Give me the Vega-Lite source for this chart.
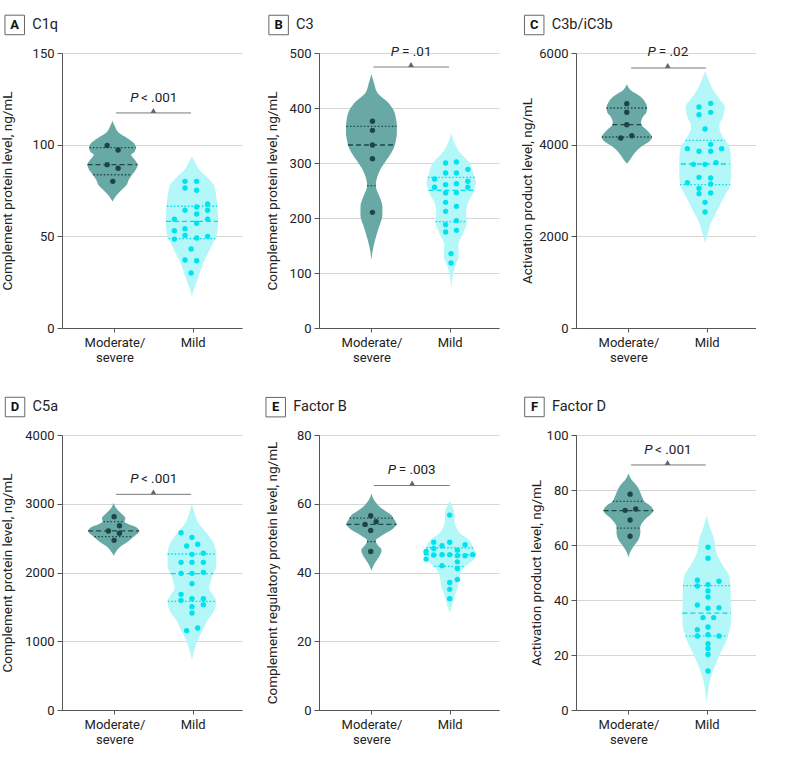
{
"$schema": "https://vega.github.io/schema/vega-lite/v6.json",
"background": "white",
"padding": {"left": 0, "top": 13, "right": 0, "bottom": 0},
"datasets": {
"vio": [
{"p":"A","g":"S","v":113,"lo":0.975,"hi":0.975},{"p":"A","g":"S","v":110,"lo":0.945,"hi":1.005},{"p":"A","g":"S","v":106.5,"lo":0.895,"hi":1.055},{"p":"A","g":"S","v":103.5,"lo":0.785,"hi":1.165},{"p":"A","g":"S","v":100.5,"lo":0.695,"hi":1.255},{"p":"A","g":"S","v":98.4,"lo":0.675,"hi":1.275},{"p":"A","g":"S","v":96,"lo":0.695,"hi":1.255},{"p":"A","g":"S","v":94.5,"lo":0.735,"hi":1.215},{"p":"A","g":"S","v":92,"lo":0.695,"hi":1.255},{"p":"A","g":"S","v":89.1,"lo":0.655,"hi":1.295},{"p":"A","g":"S","v":86.5,"lo":0.675,"hi":1.275},{"p":"A","g":"S","v":83.6,"lo":0.725,"hi":1.225},{"p":"A","g":"S","v":81,"lo":0.765,"hi":1.185},{"p":"A","g":"S","v":78,"lo":0.795,"hi":1.155},{"p":"A","g":"S","v":75,"lo":0.865,"hi":1.085},{"p":"A","g":"S","v":72,"lo":0.93,"hi":1.02},{"p":"A","g":"S","v":69,"lo":0.975,"hi":0.975},
{"p":"A","g":"M","v":93.6,"lo":1.99,"hi":1.99},{"p":"A","g":"M","v":90,"lo":1.947,"hi":2.033},{"p":"A","g":"M","v":86,"lo":1.89,"hi":2.09},{"p":"A","g":"M","v":82,"lo":1.79,"hi":2.19},{"p":"A","g":"M","v":78,"lo":1.71,"hi":2.27},{"p":"A","g":"M","v":72,"lo":1.68,"hi":2.3},{"p":"A","g":"M","v":66.4,"lo":1.665,"hi":2.315},{"p":"A","g":"M","v":59,"lo":1.655,"hi":2.325},{"p":"A","g":"M","v":52,"lo":1.665,"hi":2.315},{"p":"A","g":"M","v":48.7,"lo":1.69,"hi":2.29},{"p":"A","g":"M","v":46.4,"lo":1.72,"hi":2.26},{"p":"A","g":"M","v":41,"lo":1.78,"hi":2.2},{"p":"A","g":"M","v":34,"lo":1.86,"hi":2.12},{"p":"A","g":"M","v":28,"lo":1.905,"hi":2.075},{"p":"A","g":"M","v":23,"lo":1.95,"hi":2.03},{"p":"A","g":"M","v":17.3,"lo":1.99,"hi":1.99},
{"p":"B","g":"S","v":462,"lo":1,"hi":1},{"p":"B","g":"S","v":445,"lo":0.966,"hi":1.034},{"p":"B","g":"S","v":427,"lo":0.92,"hi":1.08},{"p":"B","g":"S","v":412,"lo":0.8,"hi":1.2},{"p":"B","g":"S","v":397,"lo":0.72,"hi":1.28},{"p":"B","g":"S","v":380,"lo":0.685,"hi":1.315},{"p":"B","g":"S","v":366.7,"lo":0.675,"hi":1.325},{"p":"B","g":"S","v":354,"lo":0.675,"hi":1.325},{"p":"B","g":"S","v":340,"lo":0.69,"hi":1.31},{"p":"B","g":"S","v":332.7,"lo":0.7,"hi":1.3},{"p":"B","g":"S","v":320,"lo":0.74,"hi":1.26},{"p":"B","g":"S","v":305,"lo":0.81,"hi":1.19},{"p":"B","g":"S","v":290,"lo":0.88,"hi":1.12},{"p":"B","g":"S","v":275,"lo":0.925,"hi":1.075},{"p":"B","g":"S","v":258.8,"lo":0.945,"hi":1.055},{"p":"B","g":"S","v":240,"lo":0.9,"hi":1.1},{"p":"B","g":"S","v":221,"lo":0.86,"hi":1.14},{"p":"B","g":"S","v":205,"lo":0.86,"hi":1.14},{"p":"B","g":"S","v":185,"lo":0.9,"hi":1.1},{"p":"B","g":"S","v":160,"lo":0.953,"hi":1.047},{"p":"B","g":"S","v":140,"lo":0.985,"hi":1.015},{"p":"B","g":"S","v":124,"lo":1,"hi":1},
{"p":"B","g":"M","v":354.5,"lo":2.02,"hi":2.02},{"p":"B","g":"M","v":336,"lo":1.977,"hi":2.063},{"p":"B","g":"M","v":318,"lo":1.904,"hi":2.136},{"p":"B","g":"M","v":300,"lo":1.784,"hi":2.256},{"p":"B","g":"M","v":282,"lo":1.737,"hi":2.303},{"p":"B","g":"M","v":273.9,"lo":1.72,"hi":2.32},{"p":"B","g":"M","v":263.6,"lo":1.704,"hi":2.336},{"p":"B","g":"M","v":250.3,"lo":1.73,"hi":2.31},{"p":"B","g":"M","v":245.5,"lo":1.74,"hi":2.3},{"p":"B","g":"M","v":227,"lo":1.81,"hi":2.23},{"p":"B","g":"M","v":209,"lo":1.83,"hi":2.21},{"p":"B","g":"M","v":193.3,"lo":1.82,"hi":2.22},{"p":"B","g":"M","v":175,"lo":1.86,"hi":2.18},{"p":"B","g":"M","v":150,"lo":1.93,"hi":2.11},{"p":"B","g":"M","v":130,"lo":1.925,"hi":2.115},{"p":"B","g":"M","v":112,"lo":1.973,"hi":2.067},{"p":"B","g":"M","v":90,"lo":2.008,"hi":2.032},{"p":"B","g":"M","v":70,"lo":2.02,"hi":2.02},
{"p":"C","g":"S","v":5324,"lo":0.98,"hi":0.98},{"p":"C","g":"S","v":5200,"lo":0.937,"hi":1.023},{"p":"C","g":"S","v":5055,"lo":0.81,"hi":1.15},{"p":"C","g":"S","v":4909,"lo":0.74,"hi":1.22},{"p":"C","g":"S","v":4800,"lo":0.72,"hi":1.24},{"p":"C","g":"S","v":4700,"lo":0.73,"hi":1.23},{"p":"C","g":"S","v":4618,"lo":0.77,"hi":1.19},{"p":"C","g":"S","v":4473,"lo":0.8,"hi":1.16},{"p":"C","g":"S","v":4436,"lo":0.795,"hi":1.165},{"p":"C","g":"S","v":4327,"lo":0.73,"hi":1.23},{"p":"C","g":"S","v":4167,"lo":0.66,"hi":1.3},{"p":"C","g":"S","v":4073,"lo":0.69,"hi":1.27},{"p":"C","g":"S","v":3964,"lo":0.79,"hi":1.17},{"p":"C","g":"S","v":3818,"lo":0.88,"hi":1.08},{"p":"C","g":"S","v":3673,"lo":0.94,"hi":1.02},{"p":"C","g":"S","v":3585,"lo":0.98,"hi":0.98},
{"p":"C","g":"M","v":5600,"lo":1.98,"hi":1.98},{"p":"C","g":"M","v":5418,"lo":1.937,"hi":2.023},{"p":"C","g":"M","v":5200,"lo":1.88,"hi":2.08},{"p":"C","g":"M","v":4982,"lo":1.79,"hi":2.17},{"p":"C","g":"M","v":4836,"lo":1.73,"hi":2.23},{"p":"C","g":"M","v":4618,"lo":1.75,"hi":2.21},{"p":"C","g":"M","v":4400,"lo":1.8,"hi":2.16},{"p":"C","g":"M","v":4182,"lo":1.76,"hi":2.2},{"p":"C","g":"M","v":4095,"lo":1.73,"hi":2.23},{"p":"C","g":"M","v":3964,"lo":1.67,"hi":2.29},{"p":"C","g":"M","v":3673,"lo":1.65,"hi":2.31},{"p":"C","g":"M","v":3578,"lo":1.65,"hi":2.31},{"p":"C","g":"M","v":3382,"lo":1.65,"hi":2.31},{"p":"C","g":"M","v":3127,"lo":1.66,"hi":2.3},{"p":"C","g":"M","v":2873,"lo":1.735,"hi":2.225},{"p":"C","g":"M","v":2582,"lo":1.82,"hi":2.14},{"p":"C","g":"M","v":2291,"lo":1.906,"hi":2.054},{"p":"C","g":"M","v":2073,"lo":1.944,"hi":2.016},{"p":"C","g":"M","v":1855,"lo":1.98,"hi":1.98},
{"p":"D","g":"S","v":3016,"lo":0.99,"hi":0.99},{"p":"D","g":"S","v":2933,"lo":0.956,"hi":1.024},{"p":"D","g":"S","v":2861,"lo":0.896,"hi":1.084},{"p":"D","g":"S","v":2788,"lo":0.84,"hi":1.14},{"p":"D","g":"S","v":2739,"lo":0.85,"hi":1.13},{"p":"D","g":"S","v":2700,"lo":0.79,"hi":1.19},{"p":"D","g":"S","v":2660,"lo":0.7,"hi":1.28},{"p":"D","g":"S","v":2604,"lo":0.664,"hi":1.316},{"p":"D","g":"S","v":2560,"lo":0.69,"hi":1.29},{"p":"D","g":"S","v":2521,"lo":0.735,"hi":1.245},{"p":"D","g":"S","v":2448,"lo":0.81,"hi":1.17},{"p":"D","g":"S","v":2376,"lo":0.905,"hi":1.075},{"p":"D","g":"S","v":2303,"lo":0.96,"hi":1.02},{"p":"D","g":"S","v":2245,"lo":0.99,"hi":0.99},
{"p":"D","g":"M","v":3006,"lo":1.99,"hi":1.99},{"p":"D","g":"M","v":2861,"lo":1.956,"hi":2.024},{"p":"D","g":"M","v":2715,"lo":1.905,"hi":2.075},{"p":"D","g":"M","v":2570,"lo":1.8,"hi":2.18},{"p":"D","g":"M","v":2424,"lo":1.713,"hi":2.267},{"p":"D","g":"M","v":2269,"lo":1.68,"hi":2.3},{"p":"D","g":"M","v":2085,"lo":1.68,"hi":2.3},{"p":"D","g":"M","v":1983,"lo":1.72,"hi":2.26},{"p":"D","g":"M","v":1891,"lo":1.745,"hi":2.235},{"p":"D","g":"M","v":1770,"lo":1.77,"hi":2.21},{"p":"D","g":"M","v":1660,"lo":1.71,"hi":2.27},{"p":"D","g":"M","v":1581,"lo":1.68,"hi":2.3},{"p":"D","g":"M","v":1455,"lo":1.7,"hi":2.28},{"p":"D","g":"M","v":1309,"lo":1.79,"hi":2.19},{"p":"D","g":"M","v":1164,"lo":1.85,"hi":2.13},{"p":"D","g":"M","v":1018,"lo":1.915,"hi":2.065},{"p":"D","g":"M","v":873,"lo":1.958,"hi":2.022},{"p":"D","g":"M","v":727,"lo":1.99,"hi":1.99},
{"p":"E","g":"S","v":63,"lo":1,"hi":1},{"p":"E","g":"S","v":61.1,"lo":0.966,"hi":1.034},{"p":"E","g":"S","v":59.6,"lo":0.915,"hi":1.085},{"p":"E","g":"S","v":58.2,"lo":0.84,"hi":1.16},{"p":"E","g":"S","v":56.8,"lo":0.75,"hi":1.25},{"p":"E","g":"S","v":55.8,"lo":0.72,"hi":1.28},{"p":"E","g":"S","v":54.8,"lo":0.69,"hi":1.31},{"p":"E","g":"S","v":54,"lo":0.68,"hi":1.32},{"p":"E","g":"S","v":53.3,"lo":0.7,"hi":1.3},{"p":"E","g":"S","v":52.3,"lo":0.75,"hi":1.25},{"p":"E","g":"S","v":51.4,"lo":0.82,"hi":1.18},{"p":"E","g":"S","v":50.4,"lo":0.89,"hi":1.11},{"p":"E","g":"S","v":49.5,"lo":0.94,"hi":1.06},{"p":"E","g":"S","v":49,"lo":0.943,"hi":1.057},{"p":"E","g":"S","v":48,"lo":0.92,"hi":1.08},{"p":"E","g":"S","v":46.5,"lo":0.87,"hi":1.13},{"p":"E","g":"S","v":45.1,"lo":0.89,"hi":1.11},{"p":"E","g":"S","v":43.2,"lo":0.943,"hi":1.057},{"p":"E","g":"S","v":41.7,"lo":0.98,"hi":1.02},{"p":"E","g":"S","v":40.5,"lo":1,"hi":1},
{"p":"E","g":"M","v":60.8,"lo":2,"hi":2},{"p":"E","g":"M","v":59.2,"lo":1.966,"hi":2.034},{"p":"E","g":"M","v":57.2,"lo":1.94,"hi":2.06},{"p":"E","g":"M","v":55.5,"lo":1.94,"hi":2.06},{"p":"E","g":"M","v":54.3,"lo":1.936,"hi":2.064},{"p":"E","g":"M","v":52.8,"lo":1.91,"hi":2.09},{"p":"E","g":"M","v":51.4,"lo":1.866,"hi":2.134},{"p":"E","g":"M","v":49.5,"lo":1.755,"hi":2.245},{"p":"E","g":"M","v":47.5,"lo":1.706,"hi":2.294},{"p":"E","g":"M","v":47.2,"lo":1.7,"hi":2.3},{"p":"E","g":"M","v":45.6,"lo":1.66,"hi":2.34},{"p":"E","g":"M","v":45.2,"lo":1.665,"hi":2.335},{"p":"E","g":"M","v":43.6,"lo":1.702,"hi":2.298},{"p":"E","g":"M","v":41.8,"lo":1.8,"hi":2.2},{"p":"E","g":"M","v":40.3,"lo":1.85,"hi":2.15},{"p":"E","g":"M","v":38.8,"lo":1.872,"hi":2.128},{"p":"E","g":"M","v":35.9,"lo":1.894,"hi":2.106},{"p":"E","g":"M","v":33,"lo":1.94,"hi":2.06},{"p":"E","g":"M","v":30.1,"lo":1.972,"hi":2.028},{"p":"E","g":"M","v":28.3,"lo":2,"hi":2},
{"p":"F","g":"S","v":86.1,"lo":1,"hi":1},{"p":"F","g":"S","v":84,"lo":0.966,"hi":1.034},{"p":"F","g":"S","v":81.6,"lo":0.894,"hi":1.106},{"p":"F","g":"S","v":79.2,"lo":0.85,"hi":1.15},{"p":"F","g":"S","v":76.7,"lo":0.814,"hi":1.186},{"p":"F","g":"S","v":75.9,"lo":0.8,"hi":1.2},{"p":"F","g":"S","v":74.3,"lo":0.72,"hi":1.28},{"p":"F","g":"S","v":72.5,"lo":0.682,"hi":1.318},{"p":"F","g":"S","v":71,"lo":0.72,"hi":1.28},{"p":"F","g":"S","v":69.5,"lo":0.782,"hi":1.218},{"p":"F","g":"S","v":67,"lo":0.845,"hi":1.155},{"p":"F","g":"S","v":66.1,"lo":0.85,"hi":1.15},{"p":"F","g":"S","v":64.6,"lo":0.847,"hi":1.153},{"p":"F","g":"S","v":62.2,"lo":0.867,"hi":1.133},{"p":"F","g":"S","v":59.8,"lo":0.926,"hi":1.074},{"p":"F","g":"S","v":57.3,"lo":0.98,"hi":1.02},{"p":"F","g":"S","v":55.5,"lo":1,"hi":1},
{"p":"F","g":"M","v":70.7,"lo":2,"hi":2},{"p":"F","g":"M","v":67,"lo":1.966,"hi":2.034},{"p":"F","g":"M","v":62.2,"lo":1.905,"hi":2.095},{"p":"F","g":"M","v":57.3,"lo":1.877,"hi":2.123},{"p":"F","g":"M","v":52.5,"lo":1.792,"hi":2.208},{"p":"F","g":"M","v":48.8,"lo":1.714,"hi":2.286},{"p":"F","g":"M","v":45.2,"lo":1.697,"hi":2.303},{"p":"F","g":"M","v":40.4,"lo":1.693,"hi":2.307},{"p":"F","g":"M","v":35.2,"lo":1.689,"hi":2.311},{"p":"F","g":"M","v":30.7,"lo":1.693,"hi":2.307},{"p":"F","g":"M","v":26.9,"lo":1.73,"hi":2.27},{"p":"F","g":"M","v":25.8,"lo":1.74,"hi":2.26},{"p":"F","g":"M","v":21,"lo":1.82,"hi":2.18},{"p":"F","g":"M","v":16.1,"lo":1.894,"hi":2.106},{"p":"F","g":"M","v":11.3,"lo":1.953,"hi":2.047},{"p":"F","g":"M","v":6.4,"lo":1.983,"hi":2.017},{"p":"F","g":"M","v":2.8,"lo":2,"hi":2}
],
"qt": [
{"p":"A","g":"S","k":"q","v":98.4,"lo":0.68,"hi":1.27},{"p":"A","g":"S","k":"med","v":89.1,"lo":0.655,"hi":1.295},{"p":"A","g":"S","k":"q","v":83.6,"lo":0.73,"hi":1.22},
{"p":"A","g":"M","k":"q","v":66.4,"lo":1.67,"hi":2.31},{"p":"A","g":"M","k":"med","v":58.2,"lo":1.66,"hi":2.32},{"p":"A","g":"M","k":"q","v":48.7,"lo":1.69,"hi":2.29},
{"p":"B","g":"S","k":"q","v":366.7,"lo":0.68,"hi":1.32},{"p":"B","g":"S","k":"med","v":332.7,"lo":0.7,"hi":1.3},{"p":"B","g":"S","k":"q","v":258.8,"lo":0.945,"hi":1.055},
{"p":"B","g":"M","k":"q","v":273.9,"lo":1.72,"hi":2.32},{"p":"B","g":"M","k":"med","v":250.3,"lo":1.73,"hi":2.31},{"p":"B","g":"M","k":"q","v":193.3,"lo":1.82,"hi":2.22},
{"p":"C","g":"S","k":"q","v":4800,"lo":0.72,"hi":1.24},{"p":"C","g":"S","k":"med","v":4436,"lo":0.795,"hi":1.165},{"p":"C","g":"S","k":"q","v":4167,"lo":0.66,"hi":1.3},
{"p":"C","g":"M","k":"q","v":4095,"lo":1.73,"hi":2.23},{"p":"C","g":"M","k":"med","v":3578,"lo":1.67,"hi":2.29},{"p":"C","g":"M","k":"q","v":3127,"lo":1.66,"hi":2.3},
{"p":"D","g":"S","k":"q","v":2739,"lo":0.86,"hi":1.12},{"p":"D","g":"S","k":"med","v":2604,"lo":0.664,"hi":1.316},{"p":"D","g":"S","k":"q","v":2521,"lo":0.745,"hi":1.235},
{"p":"D","g":"M","k":"q","v":2269,"lo":1.68,"hi":2.3},{"p":"D","g":"M","k":"med","v":1983,"lo":1.72,"hi":2.26},{"p":"D","g":"M","k":"q","v":1581,"lo":1.68,"hi":2.3},
{"p":"E","g":"S","k":"q","v":55.8,"lo":0.72,"hi":1.28},{"p":"E","g":"S","k":"med","v":54,"lo":0.68,"hi":1.32},{"p":"E","g":"S","k":"q","v":49,"lo":0.943,"hi":1.057},
{"p":"E","g":"M","k":"q","v":47.2,"lo":1.7,"hi":2.3},{"p":"E","g":"M","k":"med","v":45.2,"lo":1.67,"hi":2.33},{"p":"E","g":"M","k":"q","v":41.8,"lo":1.8,"hi":2.2},
{"p":"F","g":"S","k":"q","v":75.9,"lo":0.8,"hi":1.2},{"p":"F","g":"S","k":"med","v":72.5,"lo":0.682,"hi":1.318},{"p":"F","g":"S","k":"q","v":66.1,"lo":0.85,"hi":1.15},
{"p":"F","g":"M","k":"q","v":45.2,"lo":1.697,"hi":2.303},{"p":"F","g":"M","k":"med","v":35.2,"lo":1.689,"hi":2.311},{"p":"F","g":"M","k":"q","v":26.9,"lo":1.73,"hi":2.27}
],
"pts": [
{"p":"A","g":"S","x":0.907,"v":99.6},{"p":"A","g":"S","x":1.047,"v":97.1},{"p":"A","g":"S","x":0.907,"v":89.1},{"p":"A","g":"S","x":1.047,"v":87.1},{"p":"A","g":"S","x":0.979,"v":80},
{"p":"A","g":"M","x":1.902,"v":80},{"p":"A","g":"M","x":2.051,"v":80},{"p":"A","g":"M","x":1.902,"v":76.4},{"p":"A","g":"M","x":2.051,"v":75.1},{"p":"A","g":"M","x":2.191,"v":67.6},{"p":"A","g":"M","x":2.051,"v":66},{"p":"A","g":"M","x":1.902,"v":64.2},{"p":"A","g":"M","x":2.191,"v":64.2},{"p":"A","g":"M","x":2.051,"v":62.2},{"p":"A","g":"M","x":1.766,"v":59.3},{"p":"A","g":"M","x":2.191,"v":59.3},{"p":"A","g":"M","x":2.051,"v":57.1},{"p":"A","g":"M","x":1.766,"v":53.1},{"p":"A","g":"M","x":1.902,"v":54.2},{"p":"A","g":"M","x":1.902,"v":50.5},{"p":"A","g":"M","x":2.191,"v":50},{"p":"A","g":"M","x":1.766,"v":48.5},{"p":"A","g":"M","x":2.051,"v":49.1},{"p":"A","g":"M","x":1.979,"v":43.1},{"p":"A","g":"M","x":1.902,"v":37.1},{"p":"A","g":"M","x":2.051,"v":36.7},{"p":"A","g":"M","x":1.979,"v":30},
{"p":"B","g":"S","x":1.013,"v":375.8},{"p":"B","g":"S","x":1.013,"v":359.4},{"p":"B","g":"S","x":1.013,"v":332.7},{"p":"B","g":"S","x":1.013,"v":307.9},{"p":"B","g":"S","x":1.013,"v":210.3},
{"p":"B","g":"M","x":1.948,"v":300},{"p":"B","g":"M","x":2.086,"v":301.8},{"p":"B","g":"M","x":2.232,"v":288.5},{"p":"B","g":"M","x":1.948,"v":281.8},{"p":"B","g":"M","x":2.086,"v":281.8},{"p":"B","g":"M","x":1.807,"v":270.9},{"p":"B","g":"M","x":2.086,"v":262.4},{"p":"B","g":"M","x":1.948,"v":260.6},{"p":"B","g":"M","x":2.232,"v":266.7},{"p":"B","g":"M","x":1.807,"v":255.8},{"p":"B","g":"M","x":2.232,"v":255.8},{"p":"B","g":"M","x":1.948,"v":245.5},{"p":"B","g":"M","x":2.086,"v":246.1},{"p":"B","g":"M","x":1.948,"v":228.5},{"p":"B","g":"M","x":2.086,"v":221.2},{"p":"B","g":"M","x":1.948,"v":212.1},{"p":"B","g":"M","x":2.086,"v":195.2},{"p":"B","g":"M","x":1.948,"v":187.9},{"p":"B","g":"M","x":1.948,"v":174.5},{"p":"B","g":"M","x":2.086,"v":177.6},{"p":"B","g":"M","x":2.017,"v":135.2},{"p":"B","g":"M","x":2.017,"v":118.2},
{"p":"C","g":"S","x":0.979,"v":4894},{"p":"C","g":"S","x":0.979,"v":4706},{"p":"C","g":"S","x":0.979,"v":4436},{"p":"C","g":"S","x":0.902,"v":4145},{"p":"C","g":"S","x":1.043,"v":4196},
{"p":"C","g":"M","x":1.902,"v":4822},{"p":"C","g":"M","x":2.051,"v":4902},{"p":"C","g":"M","x":1.902,"v":4655},{"p":"C","g":"M","x":2.051,"v":4705},{"p":"C","g":"M","x":1.979,"v":4342},{"p":"C","g":"M","x":2.051,"v":4007},{"p":"C","g":"M","x":1.902,"v":3855},{"p":"C","g":"M","x":2.051,"v":3855},{"p":"C","g":"M","x":1.753,"v":3913},{"p":"C","g":"M","x":2.191,"v":3913},{"p":"C","g":"M","x":1.83,"v":3571},{"p":"C","g":"M","x":1.979,"v":3571},{"p":"C","g":"M","x":2.119,"v":3607},{"p":"C","g":"M","x":1.902,"v":3287},{"p":"C","g":"M","x":2.051,"v":3273},{"p":"C","g":"M","x":1.753,"v":3171},{"p":"C","g":"M","x":2.051,"v":3142},{"p":"C","g":"M","x":1.902,"v":3047},{"p":"C","g":"M","x":1.902,"v":2931},{"p":"C","g":"M","x":2.051,"v":2945},{"p":"C","g":"M","x":1.979,"v":2742},{"p":"C","g":"M","x":1.979,"v":2531},
{"p":"D","g":"S","x":0.996,"v":2812},{"p":"D","g":"S","x":0.923,"v":2604},{"p":"D","g":"S","x":1.064,"v":2681},{"p":"D","g":"S","x":1.064,"v":2570},{"p":"D","g":"S","x":0.996,"v":2468},
{"p":"D","g":"M","x":1.851,"v":2579},{"p":"D","g":"M","x":1.991,"v":2511},{"p":"D","g":"M","x":1.923,"v":2385},{"p":"D","g":"M","x":2.064,"v":2410},{"p":"D","g":"M","x":1.991,"v":2264},{"p":"D","g":"M","x":2.136,"v":2279},{"p":"D","g":"M","x":1.851,"v":2148},{"p":"D","g":"M","x":1.991,"v":2148},{"p":"D","g":"M","x":2.136,"v":2148},{"p":"D","g":"M","x":1.851,"v":1988},{"p":"D","g":"M","x":1.991,"v":1988},{"p":"D","g":"M","x":2.136,"v":2002},{"p":"D","g":"M","x":1.991,"v":1838},{"p":"D","g":"M","x":1.851,"v":1682},{"p":"D","g":"M","x":1.851,"v":1595},{"p":"D","g":"M","x":1.991,"v":1619},{"p":"D","g":"M","x":2.136,"v":1619},{"p":"D","g":"M","x":2.136,"v":1532},{"p":"D","g":"M","x":1.991,"v":1503},{"p":"D","g":"M","x":1.991,"v":1411},{"p":"D","g":"M","x":1.923,"v":1154},{"p":"D","g":"M","x":2.064,"v":1193},
{"p":"E","g":"S","x":0.991,"v":56.5},{"p":"E","g":"S","x":1.06,"v":54.8},{"p":"E","g":"S","x":0.919,"v":54},{"p":"E","g":"S","x":0.991,"v":52.2},{"p":"E","g":"S","x":0.991,"v":46.1},
{"p":"E","g":"M","x":2,"v":56.7},{"p":"E","g":"M","x":1.796,"v":48.8},{"p":"E","g":"M","x":2,"v":48.8},{"p":"E","g":"M","x":2.196,"v":48.1},{"p":"E","g":"M","x":1.902,"v":47.8},{"p":"E","g":"M","x":1.796,"v":47},{"p":"E","g":"M","x":2.098,"v":46.5},{"p":"E","g":"M","x":1.698,"v":46.1},{"p":"E","g":"M","x":1.902,"v":45.2},{"p":"E","g":"M","x":1.796,"v":45.1},{"p":"E","g":"M","x":2,"v":45.2},{"p":"E","g":"M","x":2.098,"v":44.9},{"p":"E","g":"M","x":2.196,"v":44.9},{"p":"E","g":"M","x":2.294,"v":45.2},{"p":"E","g":"M","x":1.698,"v":43.9},{"p":"E","g":"M","x":2.098,"v":43.1},{"p":"E","g":"M","x":1.902,"v":42},{"p":"E","g":"M","x":2.098,"v":41.2},{"p":"E","g":"M","x":2,"v":37.1},{"p":"E","g":"M","x":2.098,"v":38},{"p":"E","g":"M","x":2,"v":35.1},{"p":"E","g":"M","x":2,"v":32.4},
{"p":"F","g":"S","x":1.021,"v":78.5},{"p":"F","g":"S","x":0.958,"v":72.6},{"p":"F","g":"S","x":1.093,"v":73.1},{"p":"F","g":"S","x":1.021,"v":69.1},{"p":"F","g":"S","x":1.021,"v":63.2},
{"p":"F","g":"M","x":2.017,"v":59.2},{"p":"F","g":"M","x":2.017,"v":55.2},{"p":"F","g":"M","x":1.881,"v":47.2},{"p":"F","g":"M","x":2.017,"v":45.6},{"p":"F","g":"M","x":1.881,"v":45.1},{"p":"F","g":"M","x":2.157,"v":46.8},{"p":"F","g":"M","x":2.017,"v":43.3},{"p":"F","g":"M","x":2.017,"v":41.1},{"p":"F","g":"M","x":1.881,"v":38.2},{"p":"F","g":"M","x":2.017,"v":37},{"p":"F","g":"M","x":2.157,"v":37.2},{"p":"F","g":"M","x":1.953,"v":33.6},{"p":"F","g":"M","x":2.089,"v":33.6},{"p":"F","g":"M","x":1.881,"v":29.2},{"p":"F","g":"M","x":2.017,"v":30.2},{"p":"F","g":"M","x":2.017,"v":27.4},{"p":"F","g":"M","x":1.881,"v":26.9},{"p":"F","g":"M","x":2.157,"v":26.9},{"p":"F","g":"M","x":2.017,"v":24.1},{"p":"F","g":"M","x":2.017,"v":22.4},{"p":"F","g":"M","x":2.017,"v":20.2},{"p":"F","g":"M","x":2.017,"v":14.2}
],
"pv": [
{"p":"A","x1":1.021,"x2":1.979,"mid":1.498,"y":117.3,"yt":125.5,"pl":"P","rest":"< .001"},
{"p":"B","x1":1.026,"x2":1.991,"mid":1.506,"y":474.5,"yt":501.8,"pl":"P","rest":"= .01"},
{"p":"C","x1":1.034,"x2":1.991,"mid":1.502,"y":5673,"yt":6015,"pl":"P","rest":"= .02"},
{"p":"D","x1":1.021,"x2":1.979,"mid":1.498,"y":3137,"yt":3360,"pl":"P","rest":"< .001"},
{"p":"E","x1":1.03,"x2":2.0,"mid":1.52,"y":65.3,"yt":69.7,"pl":"P","rest":"= .003"},
{"p":"F","x1":1.034,"x2":1.987,"mid":1.5,"y":89.1,"yt":94.5,"pl":"P","rest":"< .001"}
],
"hd": [
{"p":"A","letter":"A","name":"C1q"},{"p":"B","letter":"B","name":"C3"},{"p":"C","letter":"C","name":"C3b/iC3b"},
{"p":"D","letter":"D","name":"C5a"},{"p":"E","letter":"E","name":"Factor B"},{"p":"F","letter":"F","name":"Factor D"}
]
},
"columns": 3,
"spacing": {"row": 107, "column": 77},
"bounds": "flush",
"concat": [
{"width": 180, "height": 275, "layer": [
 {"data": {"name": "vio"}, "transform": [{"filter": "datum.p == 'A'"}], "mark": {"type": "area", "orient": "horizontal", "interpolate": "monotone"},
  "encoding": {"y": {"field": "v", "type": "quantitative", "scale": {"domain": [0, 150], "nice": false}, "axis": {"title": "Complement protein level, ng/mL", "values": [0, 50, 100, 150], "format": "d", "titleX": -55, "titleY": 137.5, "titleBaseline": "middle"}},
   "x": {"field": "lo", "type": "quantitative", "scale": {"domain": [0.33, 2.63], "nice": false, "zero": false}, "axis": {"title": null, "values": [1, 2], "labelExpr": "datum.value == 1 ? ['Moderate/', 'severe'] : 'Mild'"}},
   "x2": {"field": "hi"}, "detail": {"field": "g"},
   "fill": {"condition": {"test": "datum.g == 'S'", "value": "#68a9a5"}, "value": "#b3f7f8"}}},
 {"data": {"name": "qt"}, "transform": [{"filter": "datum.p == 'A' && datum.k == 'med'"}], "mark": {"type": "rule", "strokeDash": [5, 3], "strokeWidth": 1.3},
  "encoding": {"x": {"field": "lo", "type": "quantitative"}, "x2": {"field": "hi"}, "y": {"field": "v", "type": "quantitative"}, "color": {"condition": {"test": "datum.g == 'S'", "value": "#1f4748"}, "value": "#00dce8"}}},
 {"data": {"name": "qt"}, "transform": [{"filter": "datum.p == 'A' && datum.k == 'q'"}], "mark": {"type": "rule", "strokeDash": [1.5, 2], "strokeWidth": 1.3},
  "encoding": {"x": {"field": "lo", "type": "quantitative"}, "x2": {"field": "hi"}, "y": {"field": "v", "type": "quantitative"}, "color": {"condition": {"test": "datum.g == 'S'", "value": "#1f4748"}, "value": "#00dce8"}}},
 {"data": {"name": "pts"}, "transform": [{"filter": "datum.p == 'A'"}], "mark": {"type": "circle", "size": 29, "opacity": 1},
  "encoding": {"x": {"field": "x", "type": "quantitative"}, "y": {"field": "v", "type": "quantitative"}, "color": {"condition": {"test": "datum.g == 'S'", "value": "#1e4545"}, "value": "#00e3ee"}}},
 {"data": {"name": "pv"}, "transform": [{"filter": "datum.p == 'A'"}], "layer": [
  {"mark": {"type": "rule", "color": "#7a7a7a", "strokeWidth": 1}, "encoding": {"x": {"field": "x1", "type": "quantitative"}, "x2": {"field": "x2"}, "y": {"field": "y", "type": "quantitative"}}},
  {"mark": {"type": "point", "shape": "triangle-up", "filled": true, "size": 32, "color": "#666666", "opacity": 1, "yOffset": -2.5}, "encoding": {"x": {"field": "mid", "type": "quantitative"}, "y": {"field": "y", "type": "quantitative"}}},
  {"mark": {"type": "text", "fontStyle": "italic", "fontSize": 13.5, "align": "right", "baseline": "middle", "dx": -15, "color": "#222222"}, "encoding": {"x": {"field": "mid", "type": "quantitative"}, "y": {"field": "yt", "type": "quantitative"}, "text": {"field": "pl"}}},
  {"mark": {"type": "text", "fontSize": 13.5, "align": "left", "baseline": "middle", "dx": -12.5, "color": "#222222"}, "encoding": {"x": {"field": "mid", "type": "quantitative"}, "y": {"field": "yt", "type": "quantitative"}, "text": {"field": "rest"}}}
 ]},
 {"data": {"name": "hd"}, "transform": [{"filter": "datum.p == 'A'"}], "layer": [
  {"mark": {"type": "point", "shape": "square", "size": 380, "filled": false, "stroke": "#666666", "strokeWidth": 1, "opacity": 1}, "encoding": {"x": {"datum": -0.274, "type": "quantitative"}, "y": {"datum": 165.3, "type": "quantitative"}}},
  {"mark": {"type": "text", "fontWeight": "bold", "fontSize": 13, "align": "center", "baseline": "middle", "color": "#111111"}, "encoding": {"x": {"datum": -0.274, "type": "quantitative"}, "y": {"datum": 165.3, "type": "quantitative"}, "text": {"field": "letter"}}},
  {"mark": {"type": "text", "fontSize": 14.5, "align": "left", "baseline": "middle", "dx": 17.5, "color": "#222222"}, "encoding": {"x": {"datum": -0.274, "type": "quantitative"}, "y": {"datum": 165.3, "type": "quantitative"}, "text": {"field": "name"}}}
 ]}
]},
{"width": 180, "height": 275, "layer": [
 {"data": {"name": "vio"}, "transform": [{"filter": "datum.p == 'B'"}], "mark": {"type": "area", "orient": "horizontal", "interpolate": "monotone"},
  "encoding": {"y": {"field": "v", "type": "quantitative", "scale": {"domain": [0, 500], "nice": false}, "axis": {"title": "Complement protein level, ng/mL", "values": [0, 100, 200, 300, 400, 500], "format": "d", "titleX": -47, "titleY": 137.5, "titleBaseline": "middle"}},
   "x": {"field": "lo", "type": "quantitative", "scale": {"domain": [0.33, 2.63], "nice": false, "zero": false}, "axis": {"title": null, "values": [1, 2], "labelExpr": "datum.value == 1 ? ['Moderate/', 'severe'] : 'Mild'"}},
   "x2": {"field": "hi"}, "detail": {"field": "g"},
   "fill": {"condition": {"test": "datum.g == 'S'", "value": "#68a9a5"}, "value": "#b3f7f8"}}},
 {"data": {"name": "qt"}, "transform": [{"filter": "datum.p == 'B' && datum.k == 'med'"}], "mark": {"type": "rule", "strokeDash": [5, 3], "strokeWidth": 1.3},
  "encoding": {"x": {"field": "lo", "type": "quantitative"}, "x2": {"field": "hi"}, "y": {"field": "v", "type": "quantitative"}, "color": {"condition": {"test": "datum.g == 'S'", "value": "#1f4748"}, "value": "#00dce8"}}},
 {"data": {"name": "qt"}, "transform": [{"filter": "datum.p == 'B' && datum.k == 'q'"}], "mark": {"type": "rule", "strokeDash": [1.5, 2], "strokeWidth": 1.3},
  "encoding": {"x": {"field": "lo", "type": "quantitative"}, "x2": {"field": "hi"}, "y": {"field": "v", "type": "quantitative"}, "color": {"condition": {"test": "datum.g == 'S'", "value": "#1f4748"}, "value": "#00dce8"}}},
 {"data": {"name": "pts"}, "transform": [{"filter": "datum.p == 'B'"}], "mark": {"type": "circle", "size": 29, "opacity": 1},
  "encoding": {"x": {"field": "x", "type": "quantitative"}, "y": {"field": "v", "type": "quantitative"}, "color": {"condition": {"test": "datum.g == 'S'", "value": "#1e4545"}, "value": "#00e3ee"}}},
 {"data": {"name": "pv"}, "transform": [{"filter": "datum.p == 'B'"}], "layer": [
  {"mark": {"type": "rule", "color": "#7a7a7a", "strokeWidth": 1}, "encoding": {"x": {"field": "x1", "type": "quantitative"}, "x2": {"field": "x2"}, "y": {"field": "y", "type": "quantitative"}}},
  {"mark": {"type": "point", "shape": "triangle-up", "filled": true, "size": 32, "color": "#666666", "opacity": 1, "yOffset": -2.5}, "encoding": {"x": {"field": "mid", "type": "quantitative"}, "y": {"field": "y", "type": "quantitative"}}},
  {"mark": {"type": "text", "fontStyle": "italic", "fontSize": 13.5, "align": "right", "baseline": "middle", "dx": -12, "color": "#222222"}, "encoding": {"x": {"field": "mid", "type": "quantitative"}, "y": {"field": "yt", "type": "quantitative"}, "text": {"field": "pl"}}},
  {"mark": {"type": "text", "fontSize": 13.5, "align": "left", "baseline": "middle", "dx": -9, "color": "#222222"}, "encoding": {"x": {"field": "mid", "type": "quantitative"}, "y": {"field": "yt", "type": "quantitative"}, "text": {"field": "rest"}}}
 ]},
 {"data": {"name": "hd"}, "transform": [{"filter": "datum.p == 'B'"}], "layer": [
  {"mark": {"type": "point", "shape": "square", "size": 380, "filled": false, "stroke": "#666666", "strokeWidth": 1, "opacity": 1}, "encoding": {"x": {"datum": -0.186, "type": "quantitative"}, "y": {"datum": 550.9, "type": "quantitative"}}},
  {"mark": {"type": "text", "fontWeight": "bold", "fontSize": 13, "align": "center", "baseline": "middle", "color": "#111111"}, "encoding": {"x": {"datum": -0.186, "type": "quantitative"}, "y": {"datum": 550.9, "type": "quantitative"}, "text": {"field": "letter"}}},
  {"mark": {"type": "text", "fontSize": 14.5, "align": "left", "baseline": "middle", "dx": 17.5, "color": "#222222"}, "encoding": {"x": {"datum": -0.186, "type": "quantitative"}, "y": {"datum": 550.9, "type": "quantitative"}, "text": {"field": "name"}}}
 ]}
]},
{"width": 180, "height": 275, "layer": [
 {"data": {"name": "vio"}, "transform": [{"filter": "datum.p == 'C'"}], "mark": {"type": "area", "orient": "horizontal", "interpolate": "monotone"},
  "encoding": {"y": {"field": "v", "type": "quantitative", "scale": {"domain": [0, 6000], "nice": false}, "axis": {"title": "Activation product level, ng/mL", "values": [0, 2000, 4000, 6000], "format": "d", "titleX": -49, "titleY": 137.5, "titleBaseline": "middle"}},
   "x": {"field": "lo", "type": "quantitative", "scale": {"domain": [0.33, 2.63], "nice": false, "zero": false}, "axis": {"title": null, "values": [1, 2], "labelExpr": "datum.value == 1 ? ['Moderate/', 'severe'] : 'Mild'"}},
   "x2": {"field": "hi"}, "detail": {"field": "g"},
   "fill": {"condition": {"test": "datum.g == 'S'", "value": "#68a9a5"}, "value": "#b3f7f8"}}},
 {"data": {"name": "qt"}, "transform": [{"filter": "datum.p == 'C' && datum.k == 'med'"}], "mark": {"type": "rule", "strokeDash": [5, 3], "strokeWidth": 1.3},
  "encoding": {"x": {"field": "lo", "type": "quantitative"}, "x2": {"field": "hi"}, "y": {"field": "v", "type": "quantitative"}, "color": {"condition": {"test": "datum.g == 'S'", "value": "#1f4748"}, "value": "#00dce8"}}},
 {"data": {"name": "qt"}, "transform": [{"filter": "datum.p == 'C' && datum.k == 'q'"}], "mark": {"type": "rule", "strokeDash": [1.5, 2], "strokeWidth": 1.3},
  "encoding": {"x": {"field": "lo", "type": "quantitative"}, "x2": {"field": "hi"}, "y": {"field": "v", "type": "quantitative"}, "color": {"condition": {"test": "datum.g == 'S'", "value": "#1f4748"}, "value": "#00dce8"}}},
 {"data": {"name": "pts"}, "transform": [{"filter": "datum.p == 'C'"}], "mark": {"type": "circle", "size": 29, "opacity": 1},
  "encoding": {"x": {"field": "x", "type": "quantitative"}, "y": {"field": "v", "type": "quantitative"}, "color": {"condition": {"test": "datum.g == 'S'", "value": "#1e4545"}, "value": "#00e3ee"}}},
 {"data": {"name": "pv"}, "transform": [{"filter": "datum.p == 'C'"}], "layer": [
  {"mark": {"type": "rule", "color": "#7a7a7a", "strokeWidth": 1}, "encoding": {"x": {"field": "x1", "type": "quantitative"}, "x2": {"field": "x2"}, "y": {"field": "y", "type": "quantitative"}}},
  {"mark": {"type": "point", "shape": "triangle-up", "filled": true, "size": 32, "color": "#666666", "opacity": 1, "yOffset": -2.5}, "encoding": {"x": {"field": "mid", "type": "quantitative"}, "y": {"field": "y", "type": "quantitative"}}},
  {"mark": {"type": "text", "fontStyle": "italic", "fontSize": 13.5, "align": "right", "baseline": "middle", "dx": -12, "color": "#222222"}, "encoding": {"x": {"field": "mid", "type": "quantitative"}, "y": {"field": "yt", "type": "quantitative"}, "text": {"field": "pl"}}},
  {"mark": {"type": "text", "fontSize": 13.5, "align": "left", "baseline": "middle", "dx": -9, "color": "#222222"}, "encoding": {"x": {"field": "mid", "type": "quantitative"}, "y": {"field": "yt", "type": "quantitative"}, "text": {"field": "rest"}}}
 ]},
 {"data": {"name": "hd"}, "transform": [{"filter": "datum.p == 'C'"}], "layer": [
  {"mark": {"type": "point", "shape": "square", "size": 380, "filled": false, "stroke": "#666666", "strokeWidth": 1, "opacity": 1}, "encoding": {"x": {"datum": -0.204, "type": "quantitative"}, "y": {"datum": 6611, "type": "quantitative"}}},
  {"mark": {"type": "text", "fontWeight": "bold", "fontSize": 13, "align": "center", "baseline": "middle", "color": "#111111"}, "encoding": {"x": {"datum": -0.204, "type": "quantitative"}, "y": {"datum": 6611, "type": "quantitative"}, "text": {"field": "letter"}}},
  {"mark": {"type": "text", "fontSize": 14.5, "align": "left", "baseline": "middle", "dx": 17.5, "color": "#222222"}, "encoding": {"x": {"datum": -0.204, "type": "quantitative"}, "y": {"datum": 6611, "type": "quantitative"}, "text": {"field": "name"}}}
 ]}
]},
{"width": 180, "height": 275, "layer": [
 {"data": {"name": "vio"}, "transform": [{"filter": "datum.p == 'D'"}], "mark": {"type": "area", "orient": "horizontal", "interpolate": "monotone"},
  "encoding": {"y": {"field": "v", "type": "quantitative", "scale": {"domain": [0, 4000], "nice": false}, "axis": {"title": "Complement protein level, ng/mL", "values": [0, 1000, 2000, 3000, 4000], "format": "d", "titleX": -55, "titleY": 137.5, "titleBaseline": "middle"}},
   "x": {"field": "lo", "type": "quantitative", "scale": {"domain": [0.33, 2.63], "nice": false, "zero": false}, "axis": {"title": null, "values": [1, 2], "labelExpr": "datum.value == 1 ? ['Moderate/', 'severe'] : 'Mild'"}},
   "x2": {"field": "hi"}, "detail": {"field": "g"},
   "fill": {"condition": {"test": "datum.g == 'S'", "value": "#68a9a5"}, "value": "#b3f7f8"}}},
 {"data": {"name": "qt"}, "transform": [{"filter": "datum.p == 'D' && datum.k == 'med'"}], "mark": {"type": "rule", "strokeDash": [5, 3], "strokeWidth": 1.3},
  "encoding": {"x": {"field": "lo", "type": "quantitative"}, "x2": {"field": "hi"}, "y": {"field": "v", "type": "quantitative"}, "color": {"condition": {"test": "datum.g == 'S'", "value": "#1f4748"}, "value": "#00dce8"}}},
 {"data": {"name": "qt"}, "transform": [{"filter": "datum.p == 'D' && datum.k == 'q'"}], "mark": {"type": "rule", "strokeDash": [1.5, 2], "strokeWidth": 1.3},
  "encoding": {"x": {"field": "lo", "type": "quantitative"}, "x2": {"field": "hi"}, "y": {"field": "v", "type": "quantitative"}, "color": {"condition": {"test": "datum.g == 'S'", "value": "#1f4748"}, "value": "#00dce8"}}},
 {"data": {"name": "pts"}, "transform": [{"filter": "datum.p == 'D'"}], "mark": {"type": "circle", "size": 29, "opacity": 1},
  "encoding": {"x": {"field": "x", "type": "quantitative"}, "y": {"field": "v", "type": "quantitative"}, "color": {"condition": {"test": "datum.g == 'S'", "value": "#1e4545"}, "value": "#00e3ee"}}},
 {"data": {"name": "pv"}, "transform": [{"filter": "datum.p == 'D'"}], "layer": [
  {"mark": {"type": "rule", "color": "#7a7a7a", "strokeWidth": 1}, "encoding": {"x": {"field": "x1", "type": "quantitative"}, "x2": {"field": "x2"}, "y": {"field": "y", "type": "quantitative"}}},
  {"mark": {"type": "point", "shape": "triangle-up", "filled": true, "size": 32, "color": "#666666", "opacity": 1, "yOffset": -2.5}, "encoding": {"x": {"field": "mid", "type": "quantitative"}, "y": {"field": "y", "type": "quantitative"}}},
  {"mark": {"type": "text", "fontStyle": "italic", "fontSize": 13.5, "align": "right", "baseline": "middle", "dx": -15, "color": "#222222"}, "encoding": {"x": {"field": "mid", "type": "quantitative"}, "y": {"field": "yt", "type": "quantitative"}, "text": {"field": "pl"}}},
  {"mark": {"type": "text", "fontSize": 13.5, "align": "left", "baseline": "middle", "dx": -12.5, "color": "#222222"}, "encoding": {"x": {"field": "mid", "type": "quantitative"}, "y": {"field": "yt", "type": "quantitative"}, "text": {"field": "rest"}}}
 ]},
 {"data": {"name": "hd"}, "transform": [{"filter": "datum.p == 'D'"}], "layer": [
  {"mark": {"type": "point", "shape": "square", "size": 380, "filled": false, "stroke": "#666666", "strokeWidth": 1, "opacity": 1}, "encoding": {"x": {"datum": -0.27, "type": "quantitative"}, "y": {"datum": 4407, "type": "quantitative"}}},
  {"mark": {"type": "text", "fontWeight": "bold", "fontSize": 13, "align": "center", "baseline": "middle", "color": "#111111"}, "encoding": {"x": {"datum": -0.27, "type": "quantitative"}, "y": {"datum": 4407, "type": "quantitative"}, "text": {"field": "letter"}}},
  {"mark": {"type": "text", "fontSize": 14.5, "align": "left", "baseline": "middle", "dx": 17.5, "color": "#222222"}, "encoding": {"x": {"datum": -0.27, "type": "quantitative"}, "y": {"datum": 4407, "type": "quantitative"}, "text": {"field": "name"}}}
 ]}
]},
{"width": 180, "height": 275, "layer": [
 {"data": {"name": "vio"}, "transform": [{"filter": "datum.p == 'E'"}], "mark": {"type": "area", "orient": "horizontal", "interpolate": "monotone"},
  "encoding": {"y": {"field": "v", "type": "quantitative", "scale": {"domain": [0, 80], "nice": false}, "axis": {"title": "Complement regulatory protein level, ng/mL", "values": [0, 20, 40, 60, 80], "format": "d", "titleX": -47, "titleY": 137.5, "titleBaseline": "middle"}},
   "x": {"field": "lo", "type": "quantitative", "scale": {"domain": [0.33, 2.63], "nice": false, "zero": false}, "axis": {"title": null, "values": [1, 2], "labelExpr": "datum.value == 1 ? ['Moderate/', 'severe'] : 'Mild'"}},
   "x2": {"field": "hi"}, "detail": {"field": "g"},
   "fill": {"condition": {"test": "datum.g == 'S'", "value": "#68a9a5"}, "value": "#b3f7f8"}}},
 {"data": {"name": "qt"}, "transform": [{"filter": "datum.p == 'E' && datum.k == 'med'"}], "mark": {"type": "rule", "strokeDash": [5, 3], "strokeWidth": 1.3},
  "encoding": {"x": {"field": "lo", "type": "quantitative"}, "x2": {"field": "hi"}, "y": {"field": "v", "type": "quantitative"}, "color": {"condition": {"test": "datum.g == 'S'", "value": "#1f4748"}, "value": "#00dce8"}}},
 {"data": {"name": "qt"}, "transform": [{"filter": "datum.p == 'E' && datum.k == 'q'"}], "mark": {"type": "rule", "strokeDash": [1.5, 2], "strokeWidth": 1.3},
  "encoding": {"x": {"field": "lo", "type": "quantitative"}, "x2": {"field": "hi"}, "y": {"field": "v", "type": "quantitative"}, "color": {"condition": {"test": "datum.g == 'S'", "value": "#1f4748"}, "value": "#00dce8"}}},
 {"data": {"name": "pts"}, "transform": [{"filter": "datum.p == 'E'"}], "mark": {"type": "circle", "size": 29, "opacity": 1},
  "encoding": {"x": {"field": "x", "type": "quantitative"}, "y": {"field": "v", "type": "quantitative"}, "color": {"condition": {"test": "datum.g == 'S'", "value": "#1e4545"}, "value": "#00e3ee"}}},
 {"data": {"name": "pv"}, "transform": [{"filter": "datum.p == 'E'"}], "layer": [
  {"mark": {"type": "rule", "color": "#7a7a7a", "strokeWidth": 1}, "encoding": {"x": {"field": "x1", "type": "quantitative"}, "x2": {"field": "x2"}, "y": {"field": "y", "type": "quantitative"}}},
  {"mark": {"type": "point", "shape": "triangle-up", "filled": true, "size": 32, "color": "#666666", "opacity": 1, "yOffset": -2.5}, "encoding": {"x": {"field": "mid", "type": "quantitative"}, "y": {"field": "y", "type": "quantitative"}}},
  {"mark": {"type": "text", "fontStyle": "italic", "fontSize": 13.5, "align": "right", "baseline": "middle", "dx": -16, "color": "#222222"}, "encoding": {"x": {"field": "mid", "type": "quantitative"}, "y": {"field": "yt", "type": "quantitative"}, "text": {"field": "pl"}}},
  {"mark": {"type": "text", "fontSize": 13.5, "align": "left", "baseline": "middle", "dx": -13.5, "color": "#222222"}, "encoding": {"x": {"field": "mid", "type": "quantitative"}, "y": {"field": "yt", "type": "quantitative"}, "text": {"field": "rest"}}}
 ]},
 {"data": {"name": "hd"}, "transform": [{"filter": "datum.p == 'E'"}], "layer": [
  {"mark": {"type": "point", "shape": "square", "size": 380, "filled": false, "stroke": "#666666", "strokeWidth": 1, "opacity": 1}, "encoding": {"x": {"datum": -0.223, "type": "quantitative"}, "y": {"datum": 88.1, "type": "quantitative"}}},
  {"mark": {"type": "text", "fontWeight": "bold", "fontSize": 13, "align": "center", "baseline": "middle", "color": "#111111"}, "encoding": {"x": {"datum": -0.223, "type": "quantitative"}, "y": {"datum": 88.1, "type": "quantitative"}, "text": {"field": "letter"}}},
  {"mark": {"type": "text", "fontSize": 14.5, "align": "left", "baseline": "middle", "dx": 17.5, "color": "#222222"}, "encoding": {"x": {"datum": -0.223, "type": "quantitative"}, "y": {"datum": 88.1, "type": "quantitative"}, "text": {"field": "name"}}}
 ]}
]},
{"width": 180, "height": 275, "layer": [
 {"data": {"name": "vio"}, "transform": [{"filter": "datum.p == 'F'"}], "mark": {"type": "area", "orient": "horizontal", "interpolate": "monotone"},
  "encoding": {"y": {"field": "v", "type": "quantitative", "scale": {"domain": [0, 100], "nice": false}, "axis": {"title": "Activation product level, ng/mL", "values": [0, 20, 40, 60, 80, 100], "format": "d", "titleX": -40, "titleY": 137.5, "titleBaseline": "middle"}},
   "x": {"field": "lo", "type": "quantitative", "scale": {"domain": [0.33, 2.63], "nice": false, "zero": false}, "axis": {"title": null, "values": [1, 2], "labelExpr": "datum.value == 1 ? ['Moderate/', 'severe'] : 'Mild'"}},
   "x2": {"field": "hi"}, "detail": {"field": "g"},
   "fill": {"condition": {"test": "datum.g == 'S'", "value": "#68a9a5"}, "value": "#b3f7f8"}}},
 {"data": {"name": "qt"}, "transform": [{"filter": "datum.p == 'F' && datum.k == 'med'"}], "mark": {"type": "rule", "strokeDash": [5, 3], "strokeWidth": 1.3},
  "encoding": {"x": {"field": "lo", "type": "quantitative"}, "x2": {"field": "hi"}, "y": {"field": "v", "type": "quantitative"}, "color": {"condition": {"test": "datum.g == 'S'", "value": "#1f4748"}, "value": "#00dce8"}}},
 {"data": {"name": "qt"}, "transform": [{"filter": "datum.p == 'F' && datum.k == 'q'"}], "mark": {"type": "rule", "strokeDash": [1.5, 2], "strokeWidth": 1.3},
  "encoding": {"x": {"field": "lo", "type": "quantitative"}, "x2": {"field": "hi"}, "y": {"field": "v", "type": "quantitative"}, "color": {"condition": {"test": "datum.g == 'S'", "value": "#1f4748"}, "value": "#00dce8"}}},
 {"data": {"name": "pts"}, "transform": [{"filter": "datum.p == 'F'"}], "mark": {"type": "circle", "size": 29, "opacity": 1},
  "encoding": {"x": {"field": "x", "type": "quantitative"}, "y": {"field": "v", "type": "quantitative"}, "color": {"condition": {"test": "datum.g == 'S'", "value": "#1e4545"}, "value": "#00e3ee"}}},
 {"data": {"name": "pv"}, "transform": [{"filter": "datum.p == 'F'"}], "layer": [
  {"mark": {"type": "rule", "color": "#7a7a7a", "strokeWidth": 1}, "encoding": {"x": {"field": "x1", "type": "quantitative"}, "x2": {"field": "x2"}, "y": {"field": "y", "type": "quantitative"}}},
  {"mark": {"type": "point", "shape": "triangle-up", "filled": true, "size": 32, "color": "#666666", "opacity": 1, "yOffset": -2.5}, "encoding": {"x": {"field": "mid", "type": "quantitative"}, "y": {"field": "y", "type": "quantitative"}}},
  {"mark": {"type": "text", "fontStyle": "italic", "fontSize": 13.5, "align": "right", "baseline": "middle", "dx": -15, "color": "#222222"}, "encoding": {"x": {"field": "mid", "type": "quantitative"}, "y": {"field": "yt", "type": "quantitative"}, "text": {"field": "pl"}}},
  {"mark": {"type": "text", "fontSize": 13.5, "align": "left", "baseline": "middle", "dx": -12.5, "color": "#222222"}, "encoding": {"x": {"field": "mid", "type": "quantitative"}, "y": {"field": "yt", "type": "quantitative"}, "text": {"field": "rest"}}}
 ]},
 {"data": {"name": "hd"}, "transform": [{"filter": "datum.p == 'F'"}], "layer": [
  {"mark": {"type": "point", "shape": "square", "size": 380, "filled": false, "stroke": "#666666", "strokeWidth": 1, "opacity": 1}, "encoding": {"x": {"datum": -0.201, "type": "quantitative"}, "y": {"datum": 110.2, "type": "quantitative"}}},
  {"mark": {"type": "text", "fontWeight": "bold", "fontSize": 13, "align": "center", "baseline": "middle", "color": "#111111"}, "encoding": {"x": {"datum": -0.201, "type": "quantitative"}, "y": {"datum": 110.2, "type": "quantitative"}, "text": {"field": "letter"}}},
  {"mark": {"type": "text", "fontSize": 14.5, "align": "left", "baseline": "middle", "dx": 17.5, "color": "#222222"}, "encoding": {"x": {"datum": -0.201, "type": "quantitative"}, "y": {"datum": 110.2, "type": "quantitative"}, "text": {"field": "name"}}}
 ]}
]}
],
"config": {
 "font": "Roboto",
 "view": {"stroke": null},
 "axis": {"domainColor": "#555555", "tickColor": "#555555", "labelColor": "#222222", "titleColor": "#222222", "labelFontSize": 13, "titleFontSize": 13.5, "titleFontWeight": "normal", "gridColor": "#d6d6d6", "labelFont": "Roboto", "titleFont": "Roboto"},
 "axisY": {"tickSize": 5, "labelPadding": 3, "grid": true},
 "axisX": {"tickSize": 4, "labelPadding": 4, "grid": false, "labelLineHeight": 15}
}
}
